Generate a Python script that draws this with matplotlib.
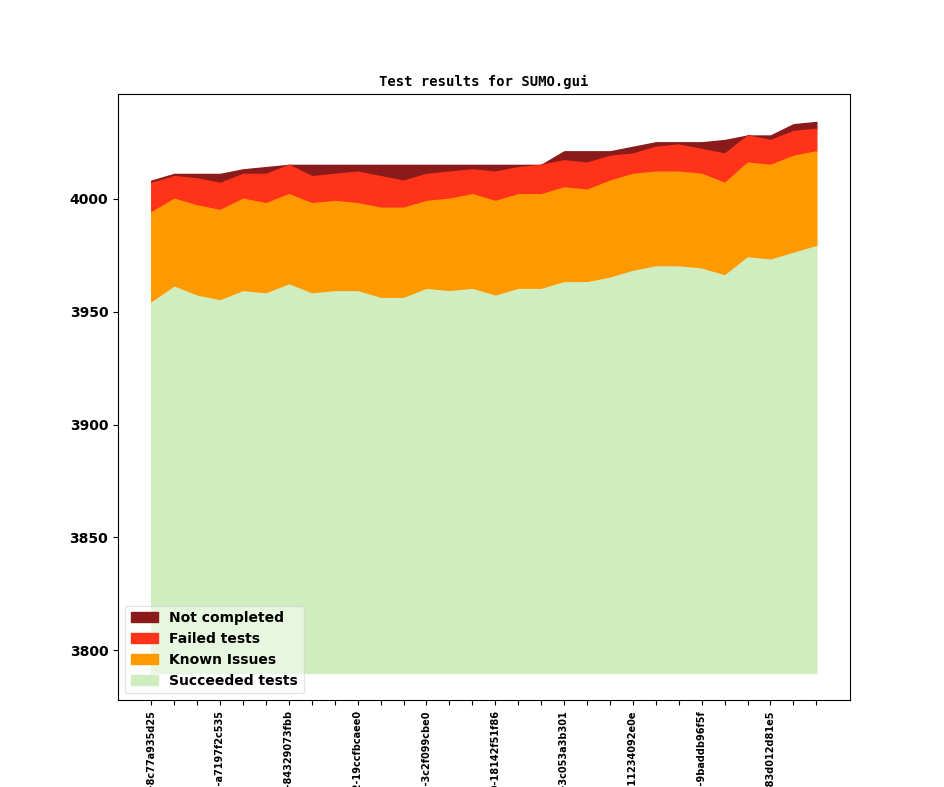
import numpy as np
import matplotlib.pyplot as plt

# test counts per build
succeeded = np.array([3954, 3961, 3957, 3955, 3959, 3958, 3962, 3958, 3959, 3959,
                      3956, 3956, 3960, 3959, 3960, 3957, 3960, 3960, 3963, 3963,
                      3965, 3968, 3970, 3970, 3969, 3966, 3974, 3973, 3976, 3979])
known = np.array([40, 39, 40, 40, 41, 40, 40, 40, 40, 39,
                  40, 40, 39, 41, 42, 42, 42, 42, 42, 41,
                  43, 43, 42, 42, 42, 41, 42, 42, 43, 42])
failed = np.array([13, 10, 12, 12, 11, 13, 13, 12, 12, 14,
                   14, 12, 12, 12, 11, 13, 12, 13, 12, 12,
                   11, 9, 11, 12, 11, 13, 12, 11, 11, 10])
not_completed = np.array([1, 1, 2, 4, 2, 3, 0, 5, 4, 3,
                          5, 7, 4, 3, 2, 3, 1, 0, 4, 5,
                          2, 3, 2, 1, 3, 6, 0, 2, 3, 3])

base = 3790

# every third build is labelled
hashes = ["8c77a935d25", "a7197f2c535", "84329073fbb", "19ccfbcaee0", "3c2f099cbe0",
          "18142f51f86", "3c053a3b301", "11234092e0e", "9baddb96f5f", "83d012d81e5"]
versions = ["v1_3_0+0412", "v1_3_0+0455", "v1_3_0+0501", "v1_3_0+0532", "v1_3_0+0567",
            "v1_3_0+0610", "v1_3_0+10648", "v1_3_0+0702", "v1_3_0+0744", "v1_3_0+0781"]

x = np.arange(len(succeeded))
labels = [""] * len(x)
for i, (v, h) in enumerate(zip(versions, hashes)):
    labels[i * 3] = v + "-" + h

s_top = succeeded
k_top = s_top + known
f_top = k_top + failed
n_top = f_top + not_completed

fig, ax = plt.subplots(figsize=(9.44, 7.87), dpi=100)

ax.fill_between(x, f_top, n_top, color="#8b1a1a", label="Not completed")
ax.fill_between(x, k_top, f_top, color="#ff331a", label="Failed tests")
ax.fill_between(x, s_top, k_top, color="#ff9900", label="Known Issues")
ax.fill_between(x, base, s_top, color="#cfedbe", label="Succeeded tests")

ax.set_title("Test results for SUMO.gui", family="DejaVu Sans Mono",
             fontweight="bold", fontsize=10)
ax.set_xticks(x)
ax.set_xticklabels(labels, rotation=90, fontsize=7, fontweight="bold")
ax.set_yticks([3800, 3850, 3900, 3950, 4000])
for t in ax.get_yticklabels():
    t.set_fontweight("bold")
    t.set_fontsize(10)

ax.legend(loc="lower left", prop={"weight": "bold", "size": 10}, framealpha=0.5)

plt.savefig("out.png")
